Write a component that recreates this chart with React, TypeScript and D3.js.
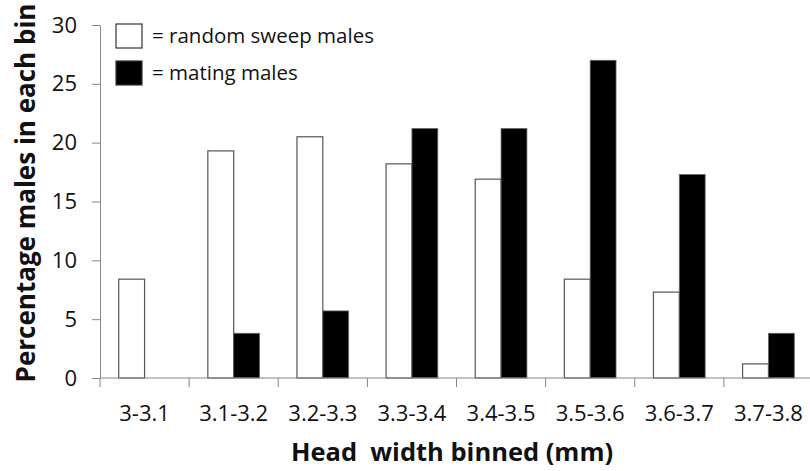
import React, { useRef, useEffect } from "react";
import * as d3 from "d3";

const categories = ["3-3.1", "3.1-3.2", "3.2-3.3", "3.3-3.4", "3.4-3.5", "3.5-3.6", "3.6-3.7", "3.7-3.8"];
const seriesNames = ["= random sweep males", "= mating males"];
const randomSweep = [8.4, 19.3, 20.5, 18.2, 16.9, 8.4, 7.3, 1.2];
const mating = [0, 3.8, 5.7, 21.2, 21.2, 27.0, 17.3, 3.8];
const yTicks = [0, 5, 10, 15, 20, 25, 30];

const App: React.FC = () => {
  const svgRef = useRef<SVGSVGElement>(null);

  useEffect(() => {
    if (!svgRef.current) return;
    const svg = d3.select(svgRef.current);
    svg.selectAll("*").remove();

    const width = 810;
    const height = 471;
    const margin = { top: 25, right: -3, bottom: 93, left: 100 };
    const innerWidth = width - margin.left - margin.right;
    const innerHeight = height - margin.top - margin.bottom;
    const font = "'Open Sans', sans-serif";
    const axisColor = "#878787";

    const g = svg
      .append("g")
      .attr("transform", `translate(${margin.left},${margin.top})`);

    const x = d3.scaleBand<string>().domain(categories).range([0, innerWidth]).padding(0);
    const inner = d3
      .scaleBand<string>()
      .domain(["random", "mating"])
      .range([x.bandwidth() * 0.21, x.bandwidth() * 0.79]);
    const y = d3.scaleLinear().domain([0, 30]).range([innerHeight, 0]);

    const rows = categories.map((c, i) => ({ c, random: randomSweep[i], mating: mating[i] }));

    // Bars
    const groups = g
      .selectAll(".grp")
      .data(rows)
      .enter()
      .append("g")
      .attr("transform", (d) => `translate(${x(d.c)},0)`);

    groups
      .filter((d) => d.random > 0)
      .append("rect")
      .attr("x", inner("random")!)
      .attr("y", (d) => y(d.random))
      .attr("width", inner.bandwidth())
      .attr("height", (d) => innerHeight - y(d.random))
      .attr("fill", "#fff")
      .attr("stroke", "#555")
      .attr("stroke-width", 1.2);

    groups
      .filter((d) => d.mating > 0)
      .append("rect")
      .attr("x", inner("mating")!)
      .attr("y", (d) => y(d.mating))
      .attr("width", inner.bandwidth())
      .attr("height", (d) => innerHeight - y(d.mating))
      .attr("fill", "#000")
      .attr("stroke", "#666")
      .attr("stroke-width", 0.8);

    // Y axis
    const yAxis = g
      .append("g")
      .call(d3.axisLeft(y).tickValues(yTicks).tickSize(8).tickSizeOuter(0).tickPadding(15));
    yAxis.selectAll("line").attr("stroke", axisColor);
    yAxis.select(".domain").attr("stroke", axisColor);
    yAxis.selectAll("text").attr("font-family", font).attr("font-size", 22).attr("fill", "#111");

    // X axis with ticks at category boundaries
    const xAxis = g.append("g").attr("transform", `translate(0,${innerHeight})`);
    xAxis
      .append("line")
      .attr("x1", 0)
      .attr("x2", innerWidth)
      .attr("stroke", axisColor);
    xAxis
      .selectAll(".tick")
      .data(categories)
      .enter()
      .append("line")
      .attr("x1", (d) => x(d)!)
      .attr("x2", (d) => x(d)!)
      .attr("y1", 0)
      .attr("y2", 9)
      .attr("stroke", axisColor);
    xAxis
      .selectAll(".lbl")
      .data(categories)
      .enter()
      .append("text")
      .attr("x", (d) => x(d)! + x.bandwidth() / 2)
      .attr("y", 43)
      .attr("text-anchor", "middle")
      .attr("font-family", font)
      .attr("font-size", 22)
      .attr("fill", "#111")
      .text((d) => d);

    // Axis titles
    svg
      .append("text")
      .attr("x", 452)
      .attr("y", 461)
      .attr("text-anchor", "middle")
      .attr("font-family", font)
      .attr("font-weight", "bold")
      .attr("font-size", 25.5)
      .attr("fill", "#111")
      .style("white-space", "pre")
      .text("Head  width binned (mm)");

    svg
      .append("text")
      .attr("transform", "translate(35,193) rotate(-90)")
      .attr("text-anchor", "middle")
      .attr("font-family", font)
      .attr("font-weight", "bold")
      .attr("font-size", 26)
      .attr("fill", "#111")
      .text("Percentage males in each bin");

    // Legend
    const legend = svg.append("g").attr("transform", "translate(116,24)");
    const fills = ["#fff", "#000"];
    seriesNames.forEach((name, i) => {
      const row = legend.append("g").attr("transform", `translate(0,${i * 37})`);
      row
        .append("rect")
        .attr("width", 26)
        .attr("height", 24)
        .attr("fill", fills[i])
        .attr("stroke", "#333")
        .attr("stroke-width", 1.2);
      row
        .append("text")
        .attr("x", 36)
        .attr("y", 19)
        .attr("font-family", font)
        .attr("font-size", 20.5)
        .attr("fill", "#111")
        .text(name);
    });
  }, []);

  return (
    <div style={{ position: "absolute", left: 0, top: 0, width: 810, height: 471, background: "#fff" }}>
      <svg ref={svgRef} width={810} height={471}></svg>
    </div>
  );
};

export default App;
